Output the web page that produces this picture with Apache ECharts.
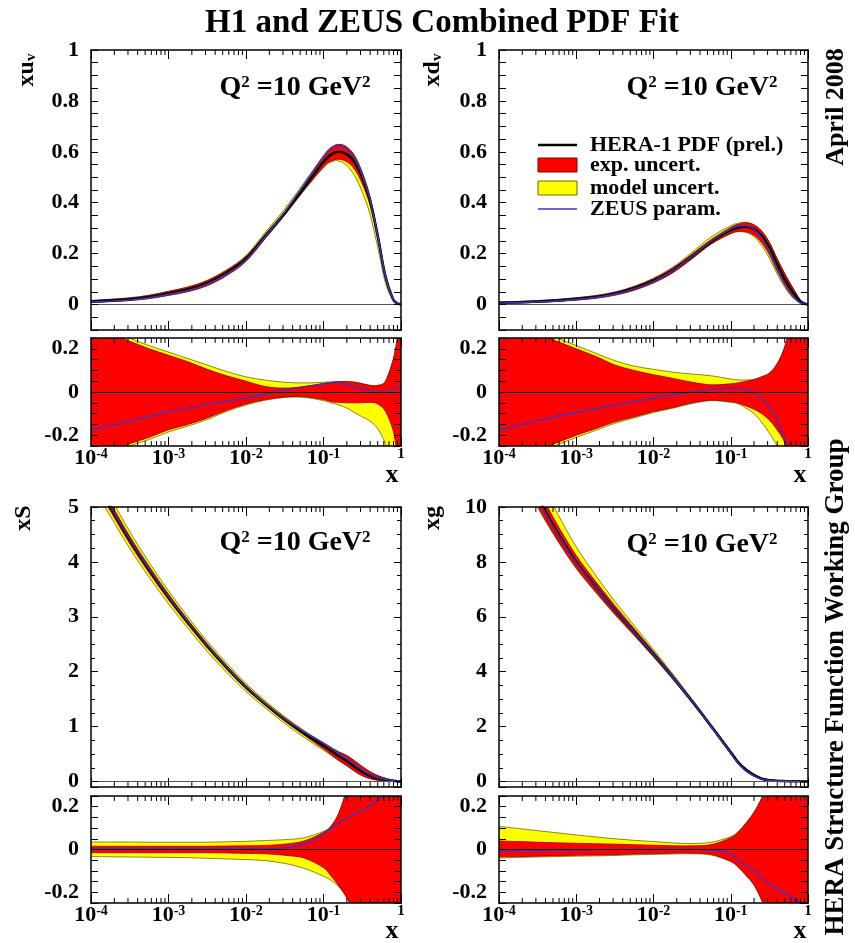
<!DOCTYPE html>
<html><head><meta charset="utf-8">
<script src="https://cdn.jsdelivr.net/npm/echarts@6/dist/echarts.min.js"></script>
<style>html,body{margin:0;padding:0;background:#fff}#c{width:855px;height:943px}</style>
</head><body><div id="c"></div>
<script>
// ---------------- DATA ----------------
const xValues = [0.0001, 0.000178, 0.000316, 0.000562, 0.001, 0.00178, 0.00316, 0.00562, 0.01, 0.0178, 0.0316, 0.0562, 0.1, 0.126, 0.158, 0.2, 0.251, 0.316, 0.398, 0.501, 0.631, 0.794, 0.891, 1];

// xu_v
const xuvCentral = [0.012, 0.016, 0.021, 0.03, 0.044, 0.06, 0.085, 0.125, 0.18, 0.27, 0.36, 0.46, 0.56, 0.59, 0.60, 0.59, 0.56, 0.50, 0.41, 0.27, 0.11, 0.02, 0.005, 0];
const xuvExpUp = [0.30, 0.27, 0.235, 0.20, 0.17, 0.14, 0.105, 0.075, 0.05, 0.025, 0.018, 0.025, 0.04, 0.045, 0.048, 0.048, 0.045, 0.038, 0.03, 0.03, 0.05, 0.15, 0.24, 0.32];
const xuvExpLo = [-0.31, -0.28, -0.24, -0.21, -0.175, -0.15, -0.12, -0.085, -0.055, -0.035, -0.023, -0.022, -0.035, -0.045, -0.048, -0.05, -0.05, -0.05, -0.048, -0.055, -0.09, -0.18, -0.28, -0.35];
const xuvModUp = [0.32, 0.29, 0.25, 0.215, 0.185, 0.155, 0.125, 0.095, 0.07, 0.055, 0.045, 0.042, 0.045, 0.047, 0.049, 0.049, 0.046, 0.039, 0.031, 0.031, 0.051, 0.151, 0.241, 0.321];
const xuvModLo = [-0.32, -0.29, -0.25, -0.22, -0.185, -0.158, -0.127, -0.09, -0.06, -0.038, -0.025, -0.025, -0.04, -0.05, -0.06, -0.075, -0.095, -0.115, -0.135, -0.17, -0.24, -0.35, -0.4, -0.45];
const xuvZeus = [-0.177, -0.155, -0.135, -0.113, -0.092, -0.075, -0.058, -0.042, -0.028, -0.01, 0.01, 0.025, 0.038, 0.042, 0.04, 0.035, 0.025, 0.015, 0.007, 0.0, 0.0, 0.01, 0.02, 0.03];

// xd_v
const xdvCentral = [0.007, 0.009, 0.012, 0.016, 0.022, 0.03, 0.043, 0.064, 0.094, 0.135, 0.19, 0.248, 0.292, 0.303, 0.306, 0.296, 0.27, 0.225, 0.16, 0.1, 0.05, 0.012, 0.004, 0];
const xdvExpUp = [0.34, 0.305, 0.27, 0.235, 0.2, 0.165, 0.125, 0.1, 0.08, 0.063, 0.045, 0.033, 0.038, 0.043, 0.05, 0.057, 0.07, 0.087, 0.13, 0.21, 0.35, 0.5, 0.6, 0.7];
const xdvExpLo = [-0.34, -0.31, -0.27, -0.235, -0.2, -0.17, -0.138, -0.115, -0.09, -0.072, -0.05, -0.038, -0.045, -0.052, -0.065, -0.08, -0.1, -0.13, -0.175, -0.235, -0.35, -0.5, -0.6, -0.7];
const xdvModUp = [0.36, 0.325, 0.285, 0.25, 0.215, 0.18, 0.145, 0.12, 0.105, 0.092, 0.083, 0.075, 0.06, 0.056, 0.056, 0.058, 0.071, 0.088, 0.131, 0.211, 0.351, 0.501, 0.601, 0.701];
const xdvModLo = [-0.35, -0.32, -0.28, -0.245, -0.21, -0.178, -0.145, -0.12, -0.095, -0.075, -0.053, -0.04, -0.048, -0.055, -0.075, -0.1, -0.14, -0.19, -0.25, -0.33, -0.45, -0.6, -0.65, -0.7];
const xdvZeus = [-0.177, -0.155, -0.133, -0.112, -0.094, -0.077, -0.06, -0.043, -0.028, -0.013, 0.0, 0.012, 0.018, 0.018, 0.01, 0.0, -0.03, -0.067, -0.13, -0.22, -0.33, -0.45, -0.5, -0.55];

// xS
const xSCentral = [5.6, 5.0, 4.4, 3.86, 3.36, 2.9, 2.47, 2.08, 1.72, 1.41, 1.13, 0.88, 0.65, 0.555, 0.46, 0.37, 0.27, 0.175, 0.105, 0.058, 0.03, 0.012, 0.005, 0];
const xSExpUp = [0.015, 0.015, 0.015, 0.015, 0.015, 0.015, 0.015, 0.016, 0.017, 0.019, 0.025, 0.04, 0.08, 0.11, 0.17, 0.28, 0.4, 0.55, 0.7, 0.85, 1, 1, 1, 1];
const xSExpLo = [-0.015, -0.015, -0.015, -0.015, -0.015, -0.015, -0.015, -0.016, -0.018, -0.02, -0.027, -0.04, -0.085, -0.125, -0.17, -0.225, -0.3, -0.4, -0.5, -0.6, -0.7, -0.8, -0.8, -0.8];
const xSModUp = [0.035, 0.035, 0.035, 0.034, 0.034, 0.034, 0.034, 0.036, 0.038, 0.042, 0.046, 0.055, 0.085, 0.112, 0.171, 0.281, 0.401, 0.551, 0.701, 0.851, 1, 1, 1, 1];
const xSModLo = [-0.033, -0.034, -0.035, -0.036, -0.037, -0.038, -0.041, -0.044, -0.047, -0.052, -0.065, -0.088, -0.125, -0.145, -0.175, -0.226, -0.3, -0.4, -0.5, -0.6, -0.7, -0.8, -0.8, -0.8];
const xSZeus = [0.003, 0.003, 0.003, 0.003, 0.003, 0.003, 0.003, 0.003, 0.003, 0.004, 0.008, 0.025, 0.075, 0.1, 0.125, 0.145, 0.165, 0.185, 0.205, 0.23, 0.26, 0.3, 0.32, 0.34];

// xg
const xgCentral = [13.2, 11.75, 10.35, 9.1, 8.0, 7.1, 6.25, 5.45, 4.64, 3.8, 2.92, 2.0, 1.06, 0.68, 0.42, 0.23, 0.1, 0.05, 0.025, 0.015, 0.01, 0.005, 0.003, 0];
const xgExpUp = [0.04, 0.037, 0.034, 0.031, 0.029, 0.027, 0.025, 0.022, 0.02, 0.017, 0.017, 0.023, 0.055, 0.083, 0.123, 0.173, 0.238, 0.32, 0.4, 0.5, 0.6, 0.7, 0.7, 0.7];
const xgExpLo = [-0.035, -0.033, -0.031, -0.029, -0.027, -0.026, -0.024, -0.021, -0.019, -0.017, -0.017, -0.023, -0.055, -0.083, -0.12, -0.165, -0.235, -0.32, -0.4, -0.5, -0.6, -0.7, -0.7, -0.7];
const xgModUp = [0.108, 0.098, 0.088, 0.078, 0.068, 0.059, 0.05, 0.043, 0.037, 0.031, 0.028, 0.034, 0.06, 0.085, 0.125, 0.175, 0.24, 0.322, 0.402, 0.502, 0.602, 0.702, 0.702, 0.702];
const xgModLo = [-0.04, -0.037, -0.035, -0.033, -0.031, -0.03, -0.028, -0.025, -0.023, -0.021, -0.02, -0.026, -0.057, -0.085, -0.122, -0.167, -0.237, -0.322, -0.402, -0.502, -0.602, -0.702, -0.702, -0.702];
const xgZeus = [-0.008, -0.006, -0.005, -0.004, -0.003, -0.002, -0.001, 0, 0, 0, 0, -0.003, -0.02, -0.05, -0.075, -0.1, -0.13, -0.16, -0.185, -0.205, -0.225, -0.25, -0.27, -0.3];

const minorTickValues = [0.0002, 0.0003, 0.0004, 0.0005, 0.0006, 0.0007, 0.0008, 0.0009,
  0.002, 0.003, 0.004, 0.005, 0.006, 0.007, 0.008, 0.009,
  0.02, 0.03, 0.04, 0.05, 0.06, 0.07, 0.08, 0.09,
  0.2, 0.3, 0.4, 0.5, 0.6, 0.7, 0.8, 0.9];

const legendNames = ['HERA-1 PDF (prel.)', 'exp. uncert.', 'model uncert.', 'ZEUS param.'];
const panelTitles = ['xu', 'xd', 'xS', 'xg'];

// ---------------- CHART ----------------
const SERIF = '"Liberation Serif", "Times New Roman", serif';
const RED = '#ff0000', YELLOW = '#ffff00', BLUE = '#3535cc';

function stepFmt(step) {
  return v => {
    const k = Math.round(v / step);
    if (Math.abs(v - k * step) > step * 1e-3) return '';
    return String(+(k * step).toFixed(2));
  };
}

const panels = [
  {c: xuvCentral, eu: xuvExpUp, el: xuvExpLo, mu: xuvModUp, ml: xuvModLo, z: xuvZeus,
   y: {min: -0.1, max: 1, interval: 0.05, fmt: stepFmt(0.2)}},
  {c: xdvCentral, eu: xdvExpUp, el: xdvExpLo, mu: xdvModUp, ml: xdvModLo, z: xdvZeus,
   y: {min: -0.1, max: 1, interval: 0.05, fmt: stepFmt(0.2)}},
  {c: xSCentral, eu: xSExpUp, el: xSExpLo, mu: xSModUp, ml: xSModLo, z: xSZeus,
   y: {min: -0.1, max: 5, splitNumber: 5, minor: 4, fmt: stepFmt(1)}},
  {c: xgCentral, eu: xgExpUp, el: xgExpLo, mu: xgModUp, ml: xgModLo, z: xgZeus,
   y: {min: -0.2, max: 10, splitNumber: 5, minor: 4, fmt: stepFmt(2)}}
];
const ratioY = {min: -0.25, max: 0.25, interval: 0.05, fmt: stepFmt(0.2)};

const grids = [
  {left: 91, top: 50, width: 310, height: 280},
  {left: 91, top: 338, width: 310, height: 108},
  {left: 499, top: 50, width: 309, height: 280},
  {left: 499, top: 338, width: 309, height: 108},
  {left: 91, top: 507, width: 310, height: 280},
  {left: 91, top: 796, width: 310, height: 107},
  {left: 499, top: 507, width: 309, height: 280},
  {left: 499, top: 796, width: 309, height: 107}
];

function xAxisDef(gi, pos, labels) {
  return {
    type: 'log', logBase: 10, min: 0.0001, max: 1, gridIndex: gi, position: pos, z: 5,
    axisLine: {show: true, onZero: false, lineStyle: {color: '#000', width: 1.5}},
    axisTick: {show: true, inside: true, length: 9, lineStyle: {color: '#000', width: 1}},
    splitLine: {show: false},
    axisLabel: labels ? {
      show: true, margin: 1, color: '#000',
      formatter: v => {
        const e = Math.round(Math.log10(v));
        if (e === 0) return '{o|1}';
        return '{b|10}{s|' + e + '}';
      },
      rich: {
        b: {fontSize: 22, fontWeight: 'bold', fontFamily: SERIF, color: '#000', lineHeight: 22, verticalAlign: 'bottom'},
        s: {fontSize: 14, fontWeight: 'bold', fontFamily: SERIF, color: '#000', lineHeight: 14, verticalAlign: 'top', padding: [0, 0, 12, 0]},
        o: {fontSize: 15, fontWeight: 'bold', fontFamily: SERIF, color: '#000', lineHeight: 15, verticalAlign: 'top', padding: [0, 0, 12, 0]}
      }
    } : {show: false}
  };
}

function yAxisDef(gi, pos, cfg, labels) {
  const a = {
    type: 'value', gridIndex: gi, position: pos, min: cfg.min, max: cfg.max, z: 5,
    axisLine: {show: true, onZero: false, lineStyle: {color: '#000', width: 1.5}},
    axisTick: {show: true, inside: true, length: 7, lineStyle: {color: '#000', width: 1}},
    splitLine: {show: false},
    axisLabel: labels ? {show: true, margin: 12, color: '#000', fontFamily: SERIF, fontWeight: 'bold', fontSize: 22, formatter: cfg.fmt} : {show: false}
  };
  if (cfg.interval) a.interval = cfg.interval;
  if (cfg.splitNumber) a.splitNumber = cfg.splitNumber;
  if (cfg.minor) a.minorTick = {show: true, splitNumber: cfg.minor, length: 4, lineStyle: {color: '#000', width: 1}};
  return a;
}

// Catmull-Rom -> cubic bezier path segments through pixel points
function smoothSeg(pts) {
  let d = '';
  for (let i = 0; i < pts.length - 1; i++) {
    const p0 = pts[i - 1] || pts[i], p1 = pts[i], p2 = pts[i + 1], p3 = pts[i + 2] || pts[i + 1];
    const c1x = p1[0] + (p2[0] - p0[0]) / 6, c1y = p1[1] + (p2[1] - p0[1]) / 6;
    const c2x = p2[0] - (p3[0] - p1[0]) / 6, c2y = p2[1] - (p3[1] - p1[1]) / 6;
    d += ' C' + c1x.toFixed(2) + ' ' + c1y.toFixed(2) + ' ' + c2x.toFixed(2) + ' ' + c2y.toFixed(2) + ' ' + p2[0].toFixed(2) + ' ' + p2[1].toFixed(2);
  }
  return d;
}

function bandSeries(gi, rows, fill, stroke, name) {
  return {
    type: 'custom', name, xAxisIndex: 2 * gi, yAxisIndex: 2 * gi, clip: true, silent: true, z: 2,
    data: rows, encode: {x: 0, y: [1, 2]},
    renderItem: (params, api) => {
      if (params.dataIndexInside !== 0) return null;
      const n = params.dataInsideLength;
      const up = [], lo = [];
      for (let j = 0; j < n; j++) {
        const x = api.value(0, j);
        up.push(api.coord([x, api.value(2, j)]));
        lo.push(api.coord([x, api.value(1, j)]));
      }
      lo.reverse();
      const d = 'M' + up[0][0] + ' ' + up[0][1] + smoothSeg(up) + ' L' + lo[0][0] + ' ' + lo[0][1] + smoothSeg(lo) + ' Z';
      return {type: 'path', shape: {pathData: d}, style: {fill, stroke, lineWidth: 0.8}};
    }
  };
}

const option = {
  animation: false, backgroundColor: '#fff',
  grid: grids.map(g => Object.assign({containLabel: false, show: false}, g)),
  xAxis: [], yAxis: [], series: [], graphic: []
};

grids.forEach((g, gi) => {
  const isRatio = gi % 2 === 1;
  const p = panels[gi >> 1];
  const ycfg = isRatio ? ratioY : p.y;
  option.xAxis.push(xAxisDef(gi, 'bottom', isRatio));
  option.xAxis.push(xAxisDef(gi, 'top', false));
  option.yAxis.push(yAxisDef(gi, 'left', ycfg, true));
  option.yAxis.push(yAxisDef(gi, 'right', ycfg, false));

  const mk = (lo, up) => xValues.map((x, i) => isRatio ? [x, lo[i], up[i]] : [x, p.c[i] * (1 + lo[i]), p.c[i] * (1 + up[i])]);
  option.series.push(bandSeries(gi, mk(p.ml, p.mu), YELLOW, '#6b6b00', legendNames[2]));
  option.series.push(bandSeries(gi, mk(p.el, p.eu), RED, '#8a0000', legendNames[1]));
  if (!isRatio) {
    option.series.push({
      type: 'line', name: legendNames[0], xAxisIndex: 2 * gi, yAxisIndex: 2 * gi, silent: true, z: 3,
      data: xValues.map((x, i) => [x, p.c[i]]), symbol: 'none', smooth: 0.35,
      lineStyle: {color: '#000', width: 2.5}
    });
  }
  option.series.push({
    type: 'line', name: legendNames[3], xAxisIndex: 2 * gi, yAxisIndex: 2 * gi, silent: true, z: 4,
    data: xValues.map((x, i) => [x, isRatio ? p.z[i] : p.c[i] * (1 + p.z[i])]), symbol: 'none', smooth: 0.35,
    lineStyle: {color: BLUE, width: isRatio ? 1.3 : 1.4},
    markLine: {silent: true, symbol: 'none', label: {show: false}, animation: false,
      lineStyle: {color: isRatio ? '#000' : '#555', width: 1, type: 'solid'}, data: [{yAxis: 0}]}
  });
  option.series.push({
    type: 'custom', xAxisIndex: 2 * gi, yAxisIndex: 2 * gi, silent: true, z: 6, clip: false,
    data: minorTickValues.map(v => [v, 0]),
    renderItem: (params, api) => {
      const cs = params.coordSys;
      const x = api.coord([api.value(0), 0])[0];
      const b = cs.y + cs.height, t = cs.y, len = 5;
      return {type: 'group', children: [
        {type: 'line', shape: {x1: x, y1: b, x2: x, y2: b - len}, style: {stroke: '#000', lineWidth: 1}},
        {type: 'line', shape: {x1: x, y1: t, x2: x, y2: t + len}, style: {stroke: '#000', lineWidth: 1}}
      ]};
    }
  });
});

const boldFont = (s) => 'bold ' + s + 'px ' + SERIF;
const G = option.graphic;
// title
G.push({type: 'text', x: 442, y: 23, style: {text: 'H1 and ZEUS Combined PDF Fit', font: boldFont(33), fill: '#000', textAlign: 'center', textVerticalAlign: 'middle'}});
// Q^2 labels
const qRich = {
  a: {fontSize: 28, fontWeight: 'bold', fontFamily: SERIF, fill: '#000', lineHeight: 28, verticalAlign: 'bottom'},
  s: {fontSize: 17, fontWeight: 'bold', fontFamily: SERIF, fill: '#000', lineHeight: 17, verticalAlign: 'top', padding: [0, 0, 12, 0]}
};
[[295, 88], [702, 88], [295, 543], [702, 545]].forEach(([x, y]) => {
  G.push({type: 'text', x, y, style: {text: '{a|Q}{s|2}{a| =10 GeV}{s|2}', rich: qRich, textAlign: 'center', textVerticalAlign: 'middle'}});
});
// y-axis titles (rotated)
const yRich = {
  a: {fontSize: 24, fontWeight: 'bold', fontFamily: SERIF, fill: '#000', lineHeight: 24, verticalAlign: 'top'},
  v: {fontSize: 15, fontWeight: 'bold', fontFamily: SERIF, fill: '#000', lineHeight: 15, verticalAlign: 'bottom', padding: [14, 0, 0, 0]}
};
G.push({type: 'text', x: 27, y: 70, rotation: Math.PI / 2, style: {text: '{a|' + panelTitles[0] + '}{v|v}', rich: yRich, textAlign: 'center', textVerticalAlign: 'middle'}});
G.push({type: 'text', x: 433, y: 70, rotation: Math.PI / 2, style: {text: '{a|' + panelTitles[1] + '}{v|v}', rich: yRich, textAlign: 'center', textVerticalAlign: 'middle'}});
G.push({type: 'text', x: 24, y: 518, rotation: Math.PI / 2, style: {text: panelTitles[2], font: boldFont(24), fill: '#000', textAlign: 'center', textVerticalAlign: 'middle'}});
G.push({type: 'text', x: 433, y: 518, rotation: Math.PI / 2, style: {text: panelTitles[3], font: boldFont(24), fill: '#000', textAlign: 'center', textVerticalAlign: 'middle'}});
// x axis names
[[392, 475], [800, 475], [392, 931], [800, 931]].forEach(([x, y]) => {
  G.push({type: 'text', x, y, style: {text: 'x', font: boldFont(26), fill: '#000', textAlign: 'center', textVerticalAlign: 'middle'}});
});
// right vertical texts
G.push({type: 'text', x: 836, y: 107, rotation: Math.PI / 2, style: {text: 'April 2008', font: boldFont(26), fill: '#000', textAlign: 'center', textVerticalAlign: 'middle'}});
G.push({type: 'text', x: 836, y: 687, rotation: Math.PI / 2, style: {text: 'HERA Structure Function Working Group', font: boldFont(27), fill: '#000', textAlign: 'center', textVerticalAlign: 'middle'}});
// legend
const legY = [145, 165, 188, 209];
G.push({type: 'line', shape: {x1: 538, y1: legY[0], x2: 577, y2: legY[0]}, style: {stroke: '#000', lineWidth: 2.5}});
G.push({type: 'rect', shape: {x: 538, y: legY[1] - 7, width: 39, height: 14}, style: {fill: RED, stroke: '#8a0000', lineWidth: 1}});
G.push({type: 'rect', shape: {x: 538, y: legY[2] - 7, width: 39, height: 14}, style: {fill: YELLOW, stroke: '#6b6b00', lineWidth: 1}});
G.push({type: 'line', shape: {x1: 538, y1: legY[3], x2: 577, y2: legY[3]}, style: {stroke: BLUE, lineWidth: 1.3}});
legendNames.forEach((t, i) => {
  G.push({type: 'text', x: 590, y: legY[i], style: {text: t, font: boldFont(22), fill: '#000', textAlign: 'left', textVerticalAlign: 'middle'}});
});

const chart = echarts.init(document.getElementById('c'), null, {renderer: 'canvas'});
chart.setOption(option);
</script>
</body></html>
